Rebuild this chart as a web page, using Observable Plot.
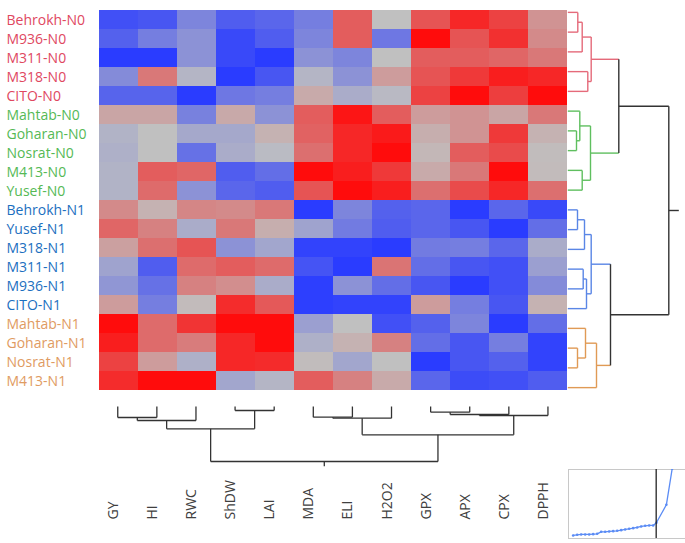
<!DOCTYPE html>
<html><head><meta charset="utf-8">
<script src="https://cdn.jsdelivr.net/npm/d3@7"></script>
<script src="https://cdn.jsdelivr.net/npm/@observablehq/plot@0.6"></script>
<style>
html,body{margin:0;padding:0;background:#fff;overflow:hidden;}
#chart{position:relative;width:685px;height:543px;font-family:"Open Sans",sans-serif;}
#chart > svg{position:absolute;}
</style></head><body><div id="chart"></div>
<script>
// ---- data ----
const rowNames = ["Behrokh-N0","M936-N0","M311-N0","M318-N0","CITO-N0","Mahtab-N0","Goharan-N0","Nosrat-N0","M413-N0","Yusef-N0",
  "Behrokh-N1","Yusef-N1","M318-N1","M311-N1","M936-N1","CITO-N1","Mahtab-N1","Goharan-N1","Nosrat-N1","M413-N1"];
const rowGroups = [0,0,0,0,0,1,1,1,1,1,2,2,2,2,2,2,3,3,3,3];
const colNames = ["GY","HI","RWC","ShDW","LAI","MDA","ELI","H2O2","GPX","APX","CPX","DPPH"];
const cellValues = [
  [-0.85,-0.8,-0.45,-0.75,-0.68,-0.5, 0.55,0,0.6,0.85,0.7,0.25],
  [-0.72,-0.5,-0.35,-0.9,-0.75,-0.45, 0.55,-0.55,1,0.6,0.8,0.3],
  [-1,-1,-0.35,-0.9,-1,-0.35, -0.45,0,0.55,0.55,0.5,0.4],
  [-0.4,0.4,-0.08,-1,-0.8,-0.08, -0.35,0.2,0.6,0.75,0.9,0.85],
  [-0.7,-0.7,-1,-0.55,-0.5,0.12, -0.15,-0.05,0.7,1,0.72,1],
  [0.15,0.15,-0.48,0.13,-0.35,0.55, 0.95,0.55,0.2,0.25,0.15,0.4],
  [-0.1,0,-0.18,-0.18,0.08,0.52, 0.85,0.92,0.1,0.25,0.75,0.08],
  [-0.12,0,-0.6,-0.15,-0.04,0.45, 0.85,1,0.05,0.55,0.65,0.02],
  [-0.1,0.55,0.5,-0.75,-0.62,1, 0.9,0.75,0.12,0.4,1,0.03],
  [-0.1,0.47,-0.35,-0.68,-0.75,0.6, 1,0.9,0.45,0.65,0.85,0.45],
  [0.3,0.08,0.32,0.3,0.4,-1, -0.45,-0.72,-0.68,-1,-0.68,-0.9],
  [0.5,0.35,-0.15,0.4,0.1,-0.22, -0.52,-0.75,-0.68,-0.8,-1,-0.62],
  [0.18,0.45,0.6,-0.35,-0.2,-0.95, -0.95,-1,-0.52,-0.5,-0.68,-0.15],
  [-0.22,-0.75,0.47,0.55,0.47,-0.82, -1,0.42,-0.62,-0.8,-0.85,-0.25],
  [-0.32,-0.6,0.35,0.28,-0.15,-0.98, -0.35,-0.62,-0.8,-1,-0.85,-0.4],
  [0.2,-0.5,0.03,0.82,0.57,-0.98, -0.95,-0.95,0.2,-0.5,-0.8,0.08],
  [1,0.47,0.78,1,1,-0.25, 0,-0.85,-0.72,-0.45,-1,-0.62],
  [0.9,0.47,0.38,0.85,1,-0.12, 0.08,0.35,-0.62,-0.8,-0.5,-0.95],
  [0.7,0.2,-0.12,0.85,0.83,0.02, -0.2,0,-1,-0.8,-0.72,-0.95],
  [0.82,1,1,-0.2,-0.08,0.55, 0.35,0.12,-0.68,-0.88,-0.85,-0.75]
];
// row linkage: [childA, childB, height]; leaves 0..19, merged nodes 20..
const rowLinkage = [
  [6,7,8.7],[0,1,10.0],[10,11,9.7],[17,18,9.7],[5,20,12.0],[21,2,14.4],[8,9,14.4],[13,14,15.4],
  [22,12,16.7],[16,23,17.7],[27,15,18.7],[3,4,20.0],[24,26,22.7],[25,31,23.4],[28,30,23.4],
  [29,19,28.7],[34,35,42.7],[33,32,51.0],[37,36,101]
];
const rowRootStub = 10;
// column linkage: leaves 0..11, merged nodes 12..
const colLinkage = [
  [0,1,11],[3,4,4],[8,9,5.7],[14,10,8],[15,11,9],[5,6,10.7],[17,7,11.7],[12,2,14],[19,13,22.3],[18,16,28.3],[20,21,55]
];
const colRootStub = 4.7;
// inset elbow curve
const insetK = [1,2,3,4,5,6,7,8,9,10,11,12,13,14,15,16,17,18,19,20,21,21.8,24.3,25.75];
const insetV = [10,12,13,13,13,14,15,21,21,22,23,24,26,28,30,32,34,37,39,40,40,48,102,210];
const insetCut = 21.75;

// ---- styles ----
const labelColors = ["#e0485f","#55b955","#1c6fc0","#df9b62"];
const linkColors = ["#e56a7a","#5fbf5f","#5a86e6","#e09a55"];
const upperColor = "#333333";

const chart = document.getElementById("chart");
function place(svg, left, top){ svg.style.left = left+"px"; svg.style.top = top+"px"; chart.appendChild(svg); }

function dendro(n, linkage, leafColor, stub){
  const pos=[], hgt=[], leaves=[], color=[], segs=[];
  for(let i=0;i<n;i++){pos[i]=i+0.5;hgt[i]=0;leaves[i]=[i];color[i]=leafColor(i);}
  linkage.forEach(([a,b,h],k)=>{
    const id=n+k;
    pos[id]=(pos[a]+pos[b])/2; hgt[id]=h; leaves[id]=leaves[a].concat(leaves[b]);
    const cs=new Set(leaves[id].map(leafColor)); color[id]=cs.size===1?[...cs][0]:upperColor;
    segs.push({p1:pos[a],p2:pos[a],h1:hgt[a],h2:h,color:color[a]});
    segs.push({p1:pos[b],p2:pos[b],h1:hgt[b],h2:h,color:color[b]});
    segs.push({p1:pos[a],p2:pos[b],h1:h,h2:h,color:color[id]});
  });
  const root=n+linkage.length-1;
  segs.push({p1:pos[root],p2:pos[root],h1:hgt[root],h2:hgt[root]+stub,color:color[root]});
  return segs;
}

// ---- heatmap ----
const cells = rowNames.flatMap((r,i)=>colNames.map((c,j)=>({row:r,col:c,value:cellValues[i][j]})));
const heat = Plot.plot({
  width:567, height:398, marginLeft:98, marginRight:0, marginTop:2, marginBottom:1,
  style:{background:"transparent", fontFamily:"Open Sans", overflow:"visible"},
  x:{domain:colNames, padding:0, axis:null},
  y:{domain:rowNames, padding:0, axis:null},
  color:{type:"linear", domain:[-1,1], clamp:true, interpolate:d3.piecewise(d3.interpolateRgb, ["#2a3cff","#c0c0c0","#ff0c0c"])},
  marks:[
    Plot.cell(cells,{x:"col",y:"row",fill:"value"}),
    ...labelColors.map((c,g)=>Plot.text(rowNames,{filter:(d,i)=>rowGroups[i]===g, y:d=>d, frameAnchor:"left", dx:-92, dy:1,
      textAnchor:"start", fill:c, fontSize:14, fontFamily:"Open Sans"}))
  ]
});
place(heat,0,0);

// ---- row dendrogram ----
const rowSegs = dendro(rowNames.length, rowLinkage, i=>linkColors[rowGroups[i]], rowRootStub);
const rowDen = Plot.plot({
  width:125, height:400, margin:0,
  style:{background:"transparent", overflow:"visible"},
  x:{domain:[0,111], range:[7.3,118.3], axis:null},
  y:{domain:[0,20], range:[2,397], axis:null},
  color:{type:"identity"},
  marks:[Plot.link(rowSegs,{x1:"h1",x2:"h2",y1:"p1",y2:"p2",stroke:"color",strokeWidth:1.4})]
});
place(rowDen,560,0);

// ---- column dendrogram + labels ----
const colSegs = dendro(colNames.length, colLinkage, ()=>upperColor, colRootStub);
const colDen = Plot.plot({
  width:567, height:146, marginTop:9, marginBottom:24, marginLeft:0, marginRight:0,
  style:{background:"transparent", fontFamily:"Open Sans", overflow:"visible"},
  x:{domain:[0,12], range:[97.7,567], axis:null},
  y:{domain:[0,60], range:[9,69], axis:null},
  color:{type:"identity"},
  marks:[
    Plot.link(colSegs,{x1:"p1",x2:"p2",y1:"h1",y2:"h2",stroke:"color",strokeWidth:1.3}),
    Plot.text(colNames,{x:(d,i)=>i+0.5, frameAnchor:"bottom", rotate:-90, textAnchor:"start", fontSize:14, fill:"#404040", fontFamily:"Open Sans"})
  ]
});
place(colDen,0,397);

// ---- inset ----
const insetData = insetK.map((k,i)=>({k, v:insetV[i]}));
const inset = Plot.plot({
  width:140, height:71, marginLeft:1, marginTop:1, marginBottom:1, marginRight:0,
  style:{background:"transparent"},
  x:{domain:[1,21], range:[5.67,85.67], axis:null},
  y:{domain:[0,207], range:[70.3,1.3], axis:null},
  marks:[
    Plot.frame({stroke:"#c8c8c8"}),
    Plot.line(insetData,{x:"k",y:"v",stroke:"#5b8cf5",strokeWidth:1.3,clip:true}),
    Plot.dot(insetData,{x:"k",y:"v",r:1.3,fill:"#5b8cf5",clip:true}),
    Plot.ruleX([insetCut],{stroke:"#111",strokeWidth:1.2})
  ]
});
place(inset,567,468);
</script></body></html>
